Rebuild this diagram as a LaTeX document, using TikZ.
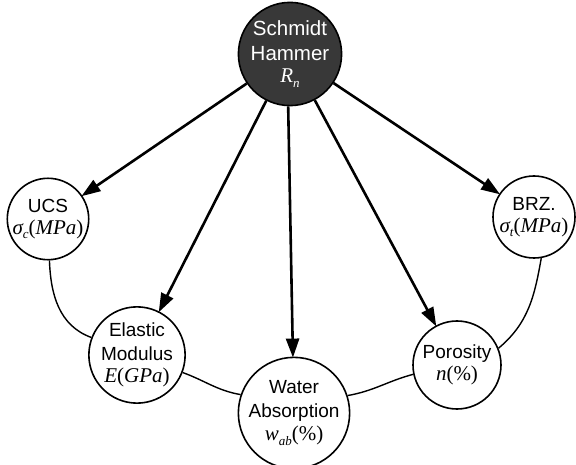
\documentclass[tikz,border=0pt]{standalone}
\usepackage{fontspec}
\setmainfont{Liberation Sans}
\newfontfamily\tms{Liberation Serif}
\usetikzlibrary{arrows.meta}
\newcommand\mi[1]{{\fontsize{21}{24}\selectfont\tms\itshape #1}}
\newcommand\mup[1]{{\fontsize{21}{24}\selectfont\tms #1}}
\newcommand\msub[1]{\raisebox{-0.45ex}{\fontsize{13}{13}\selectfont\tms\itshape #1}}
\tikzset{
  circ/.style={circle, draw, line width=1.6pt, inner sep=0pt, align=center,
    font=\fontsize{19}{24}\selectfont},
  hub/.style={circ, fill=black!78, text=white, minimum size=98pt,
    font=\fontsize{20.5}{25}\selectfont},
  arr/.style={line width=2.6pt, -{Triangle[length=19pt,width=13pt]}, shorten >=-1pt},
  ring/.style={line width=1.4pt}
}
\begin{document}
\begin{tikzpicture}[x=1pt,y=-1pt]
\useasboundingbox (0,0) rectangle (576,465);
\node[hub] (sh) at (290,54) {Schmidt\\Hammer\\[-3pt]\mi{R}\msub{n}};
\node[circ, minimum size=78pt] (ucs) at (48,219) {UCS\\[-2pt]\mi{σ}\msub{c}\mup{(}\mi{MPa}\mup{)}};
\node[circ, minimum size=82pt] (brz) at (534,217) {BRZ.\\[-2pt]\mi{σ}\msub{t}\mup{(}\mi{MPa}\mup{)}};
\node[circ, minimum size=90pt] (el) at (137,355) {Elastic\\Modulus\\[-2pt]\mi{E}\mup{(}\mi{GPa}\mup{)}};
\node[circ, minimum size=96pt] (wa) at (294,413) {Water\\Absorption\\[-1pt]\mi{w}\msub{ab}\mup{(\%)}};
\node[circ, minimum size=88pt] (po) at (457,365) {Porosity\\[-2pt]\mi{n}\mup{(\%)}};
\draw[arr] (sh) -- (ucs);
\draw[arr] (sh) -- (el);
\draw[arr] (sh.-92) -- (wa);
\draw[arr] (sh) -- (po);
\draw[arr] (sh) -- (brz);
\draw[ring] (ucs.-88) to[out=-88, in=160] (el.159);
\draw[ring] (el.-21) to[out=-20, in=170] (wa.161);
\draw[ring] (wa.18) to[out=10, in=195] (po.192);
\draw[ring] (po.22) to[out=40, in=-100] (brz.-80);
\end{tikzpicture}
\end{document}
